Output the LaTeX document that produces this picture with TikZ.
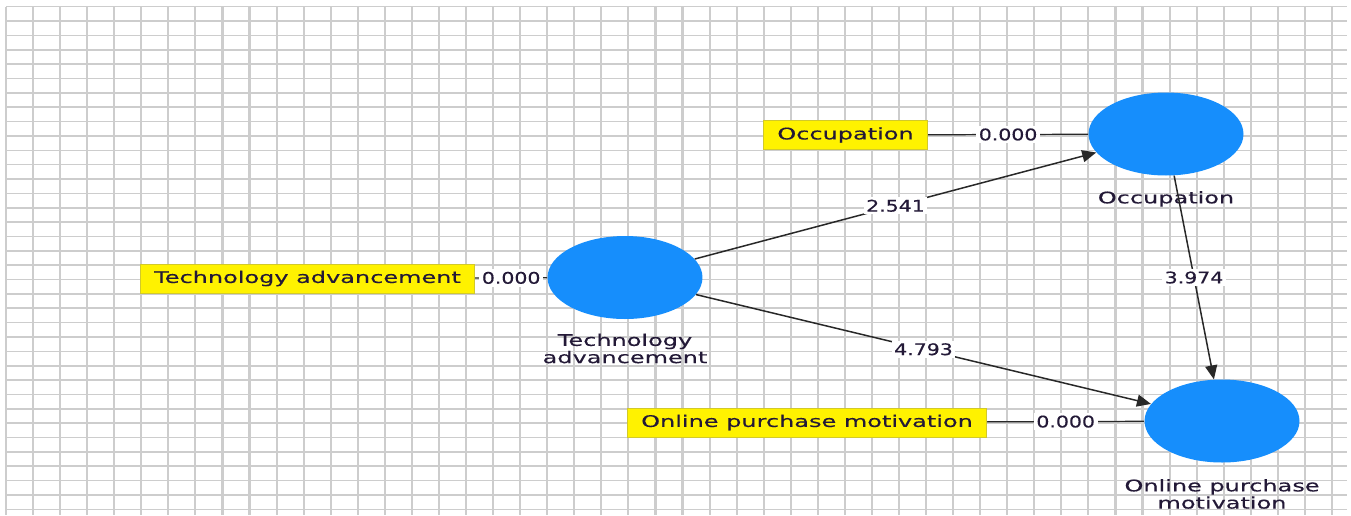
\documentclass[tikz,border=0pt]{standalone}
\usepackage{fontspec}
\setmainfont{DejaVu Sans}[FakeStretch=1.5, FakeBold=0.35]
\newfontfamily\numfont{DejaVu Sans}[FakeStretch=1.28, FakeBold=0.35]
\usetikzlibrary{positioning, arrows.meta, shapes.geometric}
\definecolor{lvblue}{RGB}{22,142,252}
\definecolor{ink}{RGB}{35,25,55}
\definecolor{gridgray}{RGB}{205,205,205}
\definecolor{wire}{RGB}{40,40,40}

\begin{document}
\begin{tikzpicture}[x=0.02cm, y=-0.02cm,
  construct/.style={ellipse, fill=lvblue, minimum width=3.1cm, minimum height=1.66cm, inner sep=0pt},
  caption/.style={text=ink, align=center, inner sep=0pt, font=\fontsize{9.1}{9.8}\selectfont},
  indicator/.style={fill=yellow, draw=yellow!80!black, text=ink, minimum height=0.58cm,
    inner xsep=0.28cm, inner ysep=0pt, font=\fontsize{9.1}{10}\selectfont},
  weight/.style={fill=white, text=ink, inner sep=1.5pt, font=\numfont\fontsize{9.1}{10}\selectfont},
  loading/.style={draw=wire, line width=0.7pt},
  link/.style={draw=wire, line width=0.85pt, -{Triangle[length=0.28cm, width=0.24cm]}}]
  \useasboundingbox (0,0) rectangle (1351,515);
  \fill[white] (0,0) rectangle (1351,515);
  % Background grid
  \foreach \i in {0,...,49}
    \draw[gridgray, line width=1.2pt] ({6+27.06*\i},6.7) -- ({6+27.06*\i},515);
  \foreach \j in {0,...,35}
    \draw[gridgray, line width=0.9pt] (6,{6.7+14.36*\j}) -- (1347,{6.7+14.36*\j});
  % Latent variables
  \node[construct] (occ) at (1166,134) {};
  \node[construct] (tech) at (625,277.5) {};
  \node[construct] (opm) at (1222,421) {};
  \node[caption, below=0.3cm of occ] (occname) {Occupation};
  \node[caption, below=0.28cm of tech] (techname) {Technology\\advancement};
  \node[caption, below=0.32cm of opm] (opmname) {Online purchase\\motivation};
  % Indicators
  \node[indicator] (occbox) at (845.5,135) {Occupation};
  \node[indicator] (techbox) at (307.5,278.5) {Technology advancement};
  \node[indicator] (opmbox) at (807,422.5) {Online purchase motivation};
  \draw[loading] (occbox) -- node[weight]{0.000} (occ);
  \draw[loading] (techbox) -- node[weight]{0.000} (tech);
  \draw[loading] (opmbox) -- node[weight]{0.000} (opm);
  % Structural paths
  \draw[link] (tech) -- node[weight]{2.541} (occ);
  \draw[link] (tech) -- node[weight]{4.793} (opm);
  \draw[link] (occ) -- node[weight]{3.974} (opm);
\end{tikzpicture}
\end{document}
